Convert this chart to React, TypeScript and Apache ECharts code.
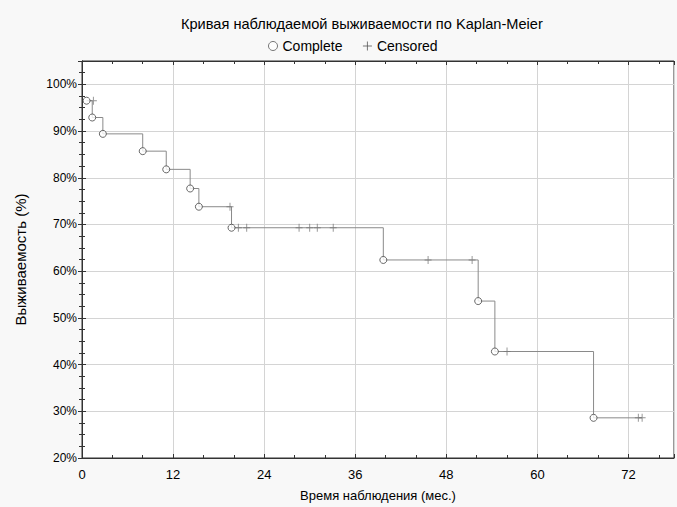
import React, { useEffect, useRef } from "react";
import * as echarts from "echarts";

const titleText = "Кривая наблюдаемой выживаемости по Kaplan-Meier";
const xAxisName = "Время наблюдения (мес.)";
const yAxisName = "Выживаемость (%)";

// Complete (event) observations: time (months), survival (%)
const eventTimes = [0.6, 1.35, 2.75, 8.0, 11.1, 14.25, 15.4, 19.7, 39.7, 52.2, 54.4, 67.4];
const eventSurv = [96.5, 92.9, 89.4, 85.7, 81.8, 77.7, 73.8, 69.3, 62.4, 53.6, 42.8, 28.6];

// Censored observations
const censTimes = [1.5, 19.5, 20.6, 21.7, 28.6, 30.0, 31.0, 33.1, 45.6, 51.4, 56.0, 73.3, 73.8];
const censSurv = [96.5, 73.8, 69.3, 69.3, 69.3, 69.3, 69.3, 69.3, 62.4, 62.4, 42.8, 28.6, 28.6];

const xTicks = [0, 12, 24, 36, 48, 60, 72];
const yTicks = [20, 30, 40, 50, 60, 70, 80, 90, 100];

const FONT = "Liberation Sans, Arial, sans-serif";
const PLUS = "path://M5,0 L5,10 M0,5 L10,5";

export default function App() {
  const ref = useRef<HTMLDivElement>(null);
  useEffect(() => {
    if (!ref.current) return;
    const chart = echarts.init(ref.current, undefined, { renderer: "svg" });
    const lineData: number[][] = eventTimes.map((t, i) => [t, eventSurv[i]]);
    lineData.push([censTimes[censTimes.length - 1], eventSurv[eventSurv.length - 1]]);
    const axisLine = { show: true, lineStyle: { color: "#333", width: 1 } };
    const xCommon = {
      type: "value" as const,
      min: 0,
      max: 78,
      interval: 12,
      axisLine,
      axisTick: { show: true, inside: true, length: 4, lineStyle: { color: "#333" } },
      minorTick: { show: true, splitNumber: 3, length: 3, lineStyle: { color: "#333" } },
    };
    const yCommon = {
      type: "value" as const,
      min: 20,
      max: 105,
      interval: 10,
      axisLine,
      axisTick: { show: true, inside: true, length: 4, lineStyle: { color: "#333" } },
      minorTick: { show: true, splitNumber: 4, length: 3, lineStyle: { color: "#333" } },
    };
    chart.setOption({
      animation: false,
      backgroundColor: "#f8f8f8",
      textStyle: { fontFamily: FONT },
      title: {
        text: titleText,
        left: 176,
        top: 11,
        textStyle: { fontFamily: FONT, fontSize: 14.6, fontWeight: "normal", color: "#000" },
      },
      legend: {
        top: 34,
        left: 263,
        itemGap: 20,
        itemWidth: 9,
        itemHeight: 9,
        textStyle: { fontFamily: FONT, fontSize: 14, color: "#000" },
        data: [
          { name: "Complete", icon: "circle", itemStyle: { color: "#fff", borderColor: "#555", borderWidth: 1 } },
          { name: "Censored", icon: PLUS, itemStyle: { color: "transparent", borderColor: "#555", borderWidth: 1 } },
        ],
      },
      grid: {
        left: 82,
        right: 2,
        top: 61,
        bottom: 46,
        show: true,
        backgroundColor: "#fff",
        borderColor: "#333",
      },
      xAxis: [
        {
          ...xCommon,
          position: "bottom",
          name: xAxisName,
          nameLocation: "middle",
          nameGap: 31,
          nameTextStyle: { fontFamily: FONT, fontSize: 13, color: "#000" },
          axisLabel: {
            fontFamily: FONT,
            fontSize: 13,
            color: "#000",
            margin: 10,
            formatter: (v: number) => (xTicks.includes(v) ? String(v) : ""),
          },
          splitLine: { show: true, lineStyle: { color: "#d4d4d4", width: 1 } },
        },
        {
          ...xCommon,
          position: "top",
          axisLabel: { show: false },
          splitLine: { show: false },
        },
      ],
      yAxis: [
        {
          ...yCommon,
          position: "left",
          name: yAxisName,
          nameLocation: "middle",
          nameGap: 54,
          nameTextStyle: { fontFamily: FONT, fontSize: 15, color: "#000" },
          axisLabel: {
            fontFamily: FONT,
            fontSize: 12,
            color: "#000",
            margin: 5,
            formatter: (v: number) => (yTicks.includes(v) ? v + "%" : ""),
          },
          splitLine: { show: true, lineStyle: { color: "#d4d4d4", width: 1 } },
        },
        {
          ...yCommon,
          position: "right",
          axisLabel: { show: false },
          splitLine: { show: false },
        },
      ],
      series: [
        {
          type: "line",
          name: "KM",
          step: "end",
          data: lineData,
          symbol: "none",
          lineStyle: { color: "#8a8a8a", width: 1 },
          z: 2,
        },
        {
          type: "scatter",
          name: "Censored",
          data: censTimes.map((t, i) => [t, censSurv[i]]),
          symbol: PLUS,
          symbolSize: [7, 8],
          itemStyle: { color: "transparent", borderColor: "#777", borderWidth: 1 },
          z: 3,
        },
        {
          type: "scatter",
          name: "Complete",
          data: eventTimes.map((t, i) => [t, eventSurv[i]]),
          symbol: "circle",
          symbolSize: 7,
          itemStyle: { color: "#fff", borderColor: "#444", borderWidth: 1 },
          z: 4,
        },
      ],
    });
    return () => chart.dispose();
  }, []);
  return <div ref={ref} style={{ width: 677, height: 507, position: "absolute", left: 0, top: 0 }} />;
}
